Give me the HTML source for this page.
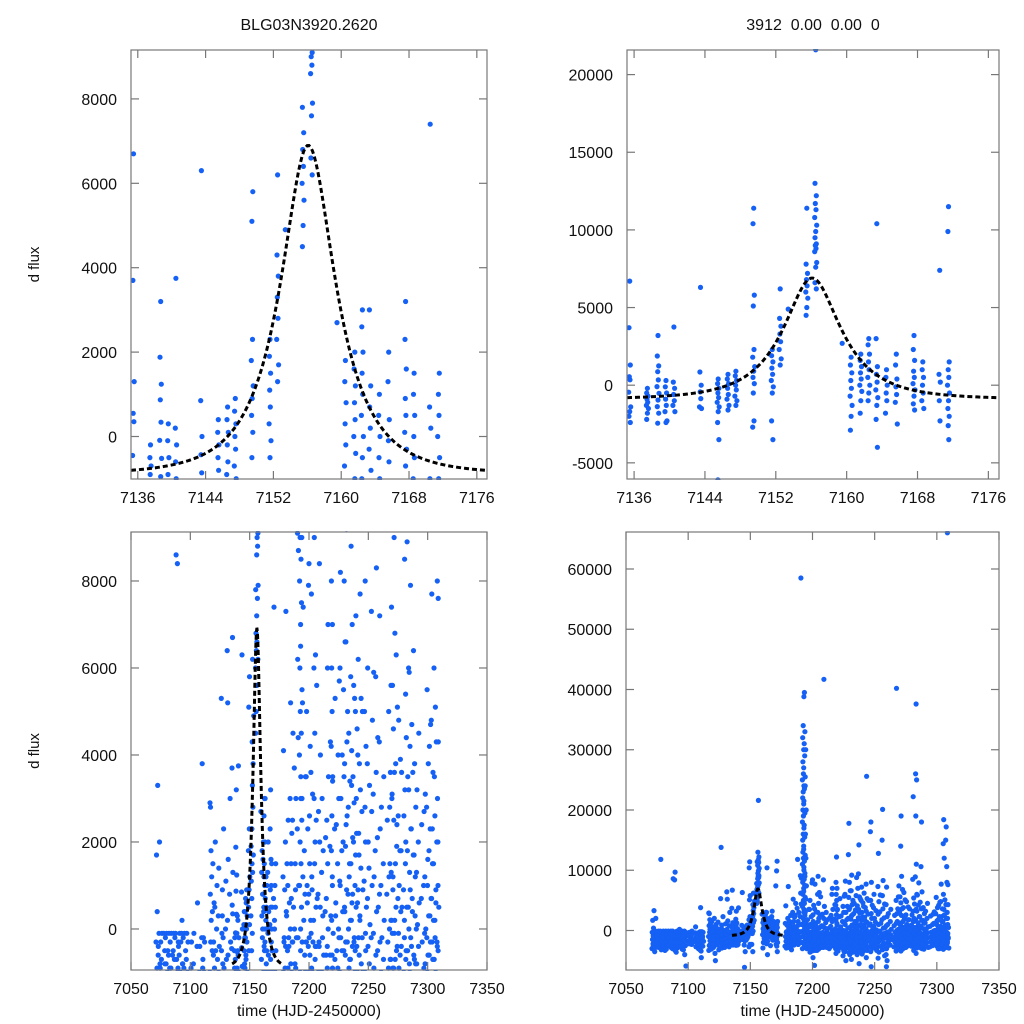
<!DOCTYPE html>
<html><head><meta charset="utf-8"><style>
html,body{margin:0;padding:0;background:#fff;width:1024px;height:1024px;overflow:hidden;}
svg{display:block;font-family:"Liberation Sans",sans-serif;}
</style></head><body>
<svg id="chart" width="1024" height="1024" viewBox="0 0 1024 1024" xmlns="http://www.w3.org/2000/svg"></svg>
<script>
// Observations within the event window (time HJD-2450000, flux values)
const windowTimes = [7135.5,7137.5,7138.7,7139.6,7140.5,7143.5,7145.5,7146.6,7147.5,7149.5,7151.6,7152.5,7153.4,7155.5,7156.5,7159.5,7160.5,7161.6,7162.5,7163.4,7164.5,7165.6,7167.6,7168.6,7170.5,7171.5];
const windowFlux = [
[6700,3700,1300,550,350,-450,-1400,-1700,-2000,-2400],
[-200,-500,-700,-900,-1100,-1300,-1500,-1800,-2200],
[3200,1880,1240,870,340,-90,-520,-950,-1380,-1800,-2450],
[300,-100,-500,-900,-1300,-1700,-2300,-2400],
[3750,200,-200,-600,-1000,-1300,-1700],
[6300,850,0,-430,-860,-1400,-1500],
[400,100,-200,-500,-800,-1100,-1400,-1700,-2400,-3500,-6100],
[700,400,100,-200,-600,-900,-1300,-1600],
[900,600,300,0,-300,-700,-1000,-1300],
[11400,10400,5800,5100,2300,1800,1200,900,500,100,-500,-2300,-2700],
[2300,1900,1500,1100,700,300,-100,-500,-2300,-3500],
[6200,4300,3800,3300,2800,2300,1700,1300],
[4900],
[11400,7800,7200,6800,6400,6000,5600,5000,4500],
[21600,13000,12200,11700,11300,10800,10300,9900,9500,9100,9000,8800,8600,7900,7600,6600,6200],
[2700],
[1800,1300,800,300,-200,-700,-1300,-2000,-2900],
[2000,1600,1200,800,400,0,-400,-1000,-1800],
[3000,2600,2000,1500,1000,500,0,-500,-1000],
[10400,3000,1200,700,200,-300,-800,-1300,-2200,-4000],
[1000,500,0,-500,-1000,-1800],
[2000,1300,400,-100,-600,-1100,-2500],
[3200,2300,1600,900,500,100,-300,-700,-1200,-1600],
[1500,1000,500,0,-500,-1000,-1500],
[7400,700,200,-1000,-2300],
[11500,9900,1500,1000,500,0,-500,-1000,-1500,-2000,-2600,-3500]
];
// Observations over the whole season outside the event window
const seasonTimes = [7071.5,7072.5,7074,7076,7078,7080,7082,7084,7086,7088,7089.5,7091,7093,7095,7097,7098,7103,7106,7110,7112,7117,7119,7121,7122.5,7126.5,7128,7131.5,7133.5,
7178.5,7180.5,7182.5,7184.5,7186.5,7188,7190.7,7192.5,7193.5,7194.5,7196,7198,7200,7202,7204.5,7206.5,7209.2,7211,7214,7216,7219.3,7222,7224.5,7226.5,7229.3,7231.5,7233.5,7235.5,7237.3,7239.5,7241.5,7243.5,7247,7249.5,7253,7256.4,7259.6,7263,7267.6,7269.5,7271.3,7273.5,7275.6,7278,7281,7283.3,7285.5,7287.7,7290,7292.5,7297,7299.5,7301.5,7303.5,7305.5,7307.5,7308.5];
const seasonFlux = [
[1700,-300,-900,-1500,-2200,-3000],
[3300,400,-600,-1200,-1900,-2600,-3500],
[2000,-100,-800,-1400,-2100],
[-100,-700,-1300,-2000,-2800],
[11800,-100,-500,-1200,-1900,-2500],
[-100,-800,-1500,-2300],
[-100,-600,-1100,-1800,-2600,-3300],
[-100,-900,-1600,-2400],
[-100,-500,-1200,-2000,-2800],
[8600,-100,-700,-1400,-2200,-3000],
[9700,8400,-300,-1000,-1800,-2600],
[-100,-600,-1300,-2100,-2900,-3600],
[200,-100,-800,-1500,-2300],
[-100,-900,-1600,-2400,-3100],
[-100,-700,-1400,-2200,-4000],
[-300,-1000,-1700,-2500,-5900],
[-100,-800,-1500,-2300],
[600,-400,-1100,-1900,-2700],
[3800,-200,-900,-1600,-2400,-3200,-4500],
[-300,-1000,-1800,-2600],
[2800,2900,1800,800,-300,-1000,-1700,-2500,-3300],
[1500,400,-600,-1400,-2200,-3000],
[2000,500,-500,-1200,-2000,-2800,-3800],
[1000,0,-700,-1500,-2300,-5000],
[13800,5300,300,-500,-1300,-2100,-2900],
[2300,-200,-900,-1700,-2500],
[5200,6400,1600,200,-600,-1400,-2200],
[3000,800,-300,-1100,-1900,-2700],
[4100,1200,-300,-1000,-1800,-2600],
[7300,2000,400,-400,-1200,-2000,-2800],
[2500,1000,-200,-900,-1700,-2500,-3200],
[5200,3000,1500,0,-800,-1600,-2400],
[4500,2500,500,-300,-1100,-1900],
[11800,3700,1500,0,-800,-1600,-2300],
[58500,9100,8700,6200,4400,2300,1000,-200,-1100,-2000],
[34000,32000,30000,28000,26000,25000,24000,23000,22000,21000,20000,19000,18000,17000,16000,15000,14000,13000,12000,11000,10000,9000,8000,7000,6000,5000,4000,3000,2000,1000,0,-1000,-2000,-3000],
[39500,38800,33000,31000,29000,27000,25500,23500,21500,19500,17500,15500,13500,12500,11500,10500,9500,8500,7500,6500,5500,4500,3500,2500,1500,500,-500,-1500,-2500],
[30000,24000,20000,16000,12000,9000,7400,5200,3000,1200,-300,-1200,-2200],
[1800,200,-600,-1400,-2200,-3000],
[5000,3500,1000,-300,-1100,-1900,-2800,-3600],
[8400,7900,2600,800,-200,-1000,-1800,-2600,-3400,-4500],
[7700,3600,1200,-100,-900,-1700,-2500,-3300,-5800],
[9000,6000,4500,3000,1500,200,-700,-1500,-2300,-3100],
[5600,2500,700,-400,-1200,-2000,-2800],
[41700,8400,4000,2000,500,-400,-1200,-2000,-2800],
[3000,1300,-200,-1000,-1800,-2600],
[2100,400,-600,-1400,-2200,-3000],
[7000,6000,3500,1500,0,-900,-1700,-2500],
[12200,8000,7000,6000,5000,4200,3400,2600,1800,1000,200,-600,-1400,-2200,-3000,-3800],
[5300,2300,300,-700,-1500,-2300],
[4000,1500,0,-900,-1700,-2500,-3300,-4200],
[8200,6000,3000,1000,-200,-1000,-1800,-2600,-3500,-5000],
[17800,12600,8000,5500,3500,2000,500,-500,-1300,-2100,-2900,-3700],
[9200,6600,4300,2400,900,-300,-1100,-1900,-2700,-3600,-4800],
[4500,2800,1200,0,-900,-1700,-2500,-3400],
[8800,5800,3300,1500,200,-700,-1500,-2300,-3100,-4000],
[14200,9400,5600,3500,2000,800,-300,-1100,-1900,-2700,-3500,-5500],
[7200,5000,3000,1700,500,-500,-1300,-2100,-2900,-3900],
[6200,4000,2200,900,-200,-1000,-1800,-2600,-3400],
[25600,7700,5300,3200,1400,200,-800,-1600,-2400,-3300,-4500],
[18000,16400,8000,5000,2800,1100,-100,-1000,-1800,-2600,-3500,-6000],
[6000,3800,2000,700,-400,-1200,-2000,-2900],
[12800,7300,4800,2700,1000,-200,-1100,-1900,-2700,-3600,-4600],
[20100,15000,8300,5800,3600,1800,400,-600,-1400,-2300,-3200],
[7200,4300,2300,800,-300,-1200,-2100,-3000,-4000,-5000,-6000],
[3500,1500,200,-700,-1500,-2400],
[40200,5000,2800,1200,0,-900,-1700,-2500,-3400],
[7400,5600,3000,1300,200,-700,-1500,-2300,-3100],
[19000,14000,9000,4600,2500,900,-100,-900,-1700,-2500,-3400],
[6300,3800,1900,500,-500,-1300,-2100,-2900],
[4800,2600,1000,-100,-900,-1700,-2600],
[3600,1800,500,-400,-1200,-2000],
[22200,8500,5400,3200,1500,200,-700,-1500,-2400,-3300],
[37600,26000,25000,19000,11000,8900,6000,3500,1800,500,-500,-1300,-2100,-2900,-3800],
[7900,4200,2300,900,-200,-1000,-1800,-2700],
[18000,10600,6400,3600,1700,400,-600,-1400,-2200,-3000],
[2800,1200,0,-800,-1600,-2400],
[4500,2000,600,-400,-1200,-2000,-2800],
[2700,1000,-100,-900,-1700,-2500],
[5500,2800,1000,-200,-1000,-1800,-2600],
[4200,1800,300,-600,-1400,-2200,-3000],
[7700,4800,2300,700,-300,-1100,-1900,-2700],
[18400,14400,12000,6000,3500,1500,200,-700,-1500,-2300,-3100],
[17200,15000,10600,4300,2000,600,-400,-1200,-2000,-2800],
[66000,8000,7600,3000,1000,-300,-1100,-1900,-2700]
];
// Additional season nights (mostly near baseline)
const extraTimes = [7073,7075,7079,7081,7083,7085,7087,7090,7092,7094,7096,7101,7108,7111,7118,7120,7124,7127,7130,
7179.5,7181.5,7183.5,7185.5,7189,7197,7199,7201,7203,7205.5,7208,7212,7215,7218,7220,7223,7225.5,7228,7230.4,7232.5,7234.5,7236.4,7238.4,7240.5,7242.5,7245,7248,7251,7254.5,7258,7261,7266,7268.6,7270.4,7272.4,7274.5,7277,7280,7282,7284.4,7286.6,7289,7291,7295,7298,7300.5,7302.5,7304.5,7306.5,7309];
const extraFlux = [
[-400,-1100,-1700,-2300,-2900],[-300,-900,-1500,-2100,-2700],[-200,-800,-1400,-2000,-2600,-3200],[-500,-1000,-1600,-2200,-2800],
[-300,-900,-1400,-2000,-2500,-3100],[-600,-1200,-1800,-2500],[-200,-700,-1300,-1900,-2600],[-400,-900,-1500,-2100,-2700,-3300],
[-300,-1000,-1600,-2300],[-200,-800,-1400,-2000,-2700],[-500,-1100,-1800,-2500,-3200],[-300,-900,-1600,-2200],
[-400,-1000,-1700,-2400,-3000],[-200,-700,-1300,-1900,-2600,-3400],[1200,200,-500,-1100,-1800,-2400,-3100],[600,-300,-900,-1600,-2300,-2900],
[1400,300,-400,-1000,-1700,-2400,-3200],[900,-100,-800,-1500,-2200,-2900],[1100,0,-700,-1400,-2100,-2800],
[900,-200,-900,-1500,-2200,-2900],[1500,300,-500,-1200,-1900,-2600],[600,-400,-1100,-1800,-2400,-3100],[2200,700,-300,-1000,-1700,-2400],
[3000,900,-200,-900,-1600,-2300],[3500,800,-300,-1000,-1700,-2400,-3100],[2300,600,-400,-1100,-1800,-2600],[4200,1500,200,-600,-1300,-2000,-2800],
[3100,900,-300,-1000,-1700,-2500,-3300],[6300,2000,500,-400,-1100,-1800,-2600],[2700,800,-300,-1000,-1800,-2600],[1800,300,-600,-1300,-2000,-2800],
[2500,700,-400,-1100,-1900,-2700],[4300,1900,300,-600,-1400,-2200,-3000],[3500,1200,-100,-900,-1700,-2500,-3400],[2400,600,-500,-1200,-2000,-2800],
[5700,3000,1100,-200,-1000,-1800,-2600,-3500],[4000,1800,400,-500,-1300,-2100,-2900],[6600,3800,1900,400,-600,-1400,-2200,-3000,-4000],[5000,2600,800,-300,-1100,-1900,-2700,-3600],
[3400,1500,200,-700,-1500,-2300,-3100],[7000,4100,2100,600,-400,-1200,-2000,-2800,-3700],[5300,2900,1000,-200,-1000,-1800,-2600,-3500],[4600,2200,600,-400,-1200,-2000,-2800],
[3800,1700,300,-600,-1400,-2200,-3000],[5000,2700,900,-200,-1000,-1800,-2700],[4200,2000,500,-500,-1300,-2100,-2900],[3300,1400,100,-800,-1600,-2400,-3300],
[5900,3100,1200,-100,-900,-1700,-2600],[4400,2100,500,-500,-1300,-2100,-3000,-4200],[2800,1000,-200,-1000,-1800,-2600],[2500,800,-300,-1100,-1900,-2700],
[3600,1500,200,-700,-1500,-2300],[5600,3100,1200,-100,-900,-1700,-2500],[6800,3600,1500,200,-700,-1500,-2300,-3100],[5100,2400,700,-400,-1200,-2000,-2800],
[3900,1800,400,-600,-1400,-2200],[2600,900,-200,-1000,-1800,-2600],[4400,2000,500,-500,-1300,-2100,-2900],[5900,3200,1300,0,-800,-1600,-2400],
[4700,2300,700,-400,-1200,-2000,-2900],[3800,1700,300,-700,-1500,-2300,-3100],[3200,1300,100,-800,-1600,-2400],[2400,700,-300,-1100,-1900,-2700],
[3100,1200,0,-800,-1600,-2400],[3800,1600,300,-600,-1400,-2200,-3000],[4700,2300,700,-300,-1100,-1900,-2700],[3600,1500,200,-700,-1500,-2300,-3100],
[5100,2600,900,-200,-1000,-1800,-2600],[4300,2000,500,-500,-1300,-2100,-2900],[1500,300,-600,-1400,-2200]
];
// Model fit parameters: [t0, tE, u0, baseline, peak excess]
const modelParams = [7156.1, 6.8, 0.5, -900, 7800];
const modelRange = [7135.2, 7177.2];
// Tick labels
const ticksTopX = [7136,7144,7152,7160,7168,7176];
const ticksTLY = [0,2000,4000,6000,8000];
const ticksTRY = [-5000,0,5000,10000,15000,20000];
const ticksBotX = [7050,7100,7150,7200,7250,7300,7350];
const ticksBLY = [0,2000,4000,6000,8000];
const ticksBRY = [0,10000,20000,30000,40000,50000,60000];

const NS = 'http://www.w3.org/2000/svg';
const svg = document.getElementById('chart');
function mk(tag, attrs, parent){const e=document.createElementNS(NS,tag);for(const k in attrs)e.setAttribute(k,attrs[k]);(parent||svg).appendChild(e);return e;}

function magn(t){
  const [t0,tE,u0,base,amp]=modelParams;
  const u=Math.sqrt(u0*u0+((t-t0)/tE)**2);
  const A=(u*u+2)/(u*Math.sqrt(u*u+4));
  const A0=(u0*u0+2)/(u0*Math.sqrt(u0*u0+4));
  return base+amp*(A-1)/(A0-1);
}

const panels = [
 {key:'tl',x0:131,x1:487,y0:50,y1:479,xmin:7135.2,xmax:7177.2,ymin:-1007,ymax:9159,xt:ticksTopX,yt:ticksTLY,xlab:497,title:'BLG03N3920.2620',ylabel:true,xtitle:false,spread:0.15},
 {key:'tr',x0:627,x1:999,y0:50,y1:479,xmin:7135.2,xmax:7177.2,ymin:-6040,ymax:21584,xt:ticksTopX,yt:ticksTRY,xlab:497,title:'3912\u00a0\u00a00.00\u00a0\u00a00.00\u00a0\u00a00',ylabel:false,xtitle:false,spread:0.15},
 {key:'bl',x0:131,x1:487,y0:532,y1:970,xmin:7050,xmax:7350,ymin:-943,ymax:9126,xt:ticksBotX,yt:ticksBLY,xlab:988,title:null,ylabel:true,xtitle:true,spread:0.8},
 {key:'br',x0:626,x1:999,y0:532,y1:970,xmin:7050,xmax:7350,ymin:-6556,ymax:66140,xt:ticksBotX,yt:ticksBRY,xlab:988,title:null,ylabel:false,xtitle:true,spread:0.8}
];
// small within-night time offsets (visual spread of exposures within one night)
const nightOffsets = [0,-0.5,0.5,-0.25,0.25,-0.75,0.75];

const defs = mk('defs',{});
panels.forEach(p=>{
  const X=t=>p.x0+(t-p.xmin)/(p.xmax-p.xmin)*(p.x1-p.x0);
  const Y=v=>p.y1-(v-p.ymin)/(p.ymax-p.ymin)*(p.y1-p.y0);
  const cp=mk('clipPath',{id:'clip-'+p.key},defs);
  mk('rect',{x:p.x0,y:p.y0-1,width:p.x1-p.x0,height:p.y1-p.y0+2},cp);
  const g=mk('g',{});
  
  
  const pts=mk('g',{'clip-path':'url(#clip-'+p.key+')',fill:'#1560f5'},g);
  
  
  const draw=(times,flux)=>{
    times.forEach((t,i)=>{
      if(t<p.xmin-1||t>p.xmax+1) return;
      flux[i].forEach((v,j)=>{
        const tt=t+nightOffsets[j%nightOffsets.length]*p.spread;
        const cx=X(tt), cy=Y(v);
        if(cy<p.y0-4||cy>p.y1+4||cx<p.x0-4||cx>p.x1+4) return;
        const c=mk('circle',{cx:cx.toFixed(1),cy:cy.toFixed(1),r:2.6},pts);
        
        
      });
    });
  };
  draw(windowTimes,windowFlux);
  draw(seasonTimes,seasonFlux);
  draw(extraTimes,extraFlux);
  let d='';
  for(let i=0;i<=200;i++){
    const t=modelRange[0]+(modelRange[1]-modelRange[0])*i/200;
    d+=(i?'L':'M')+X(t).toFixed(2)+','+Math.min(p.y1,Math.max(p.y0,Y(magn(t)))).toFixed(2);
  }
  const curve=mk('path',{d:d,fill:'none',stroke:'#000','stroke-width':3,'stroke-dasharray':'5,3','clip-path':'url(#clip-'+p.key+')'},g);
  
  
  const fr=mk('rect',{x:p.x0,y:p.y0,width:p.x1-p.x0,height:p.y1-p.y0,fill:'none',stroke:'#777','stroke-width':1.2},g);
  
  
  p.xt.forEach(v=>{
    const x=X(v);
    mk('line',{x1:x,x2:x,y1:p.y1,y2:p.y1-8,stroke:'#777','stroke-width':1.2},g);
    mk('line',{x1:x,x2:x,y1:p.y0,y2:p.y0+8,stroke:'#777','stroke-width':1.2},g);
    const tx=mk('text',{x:x,y:p.xlab+6,'text-anchor':'middle','font-size':16,fill:'#111'},g);
    tx.textContent=v;
    
    
  });
  p.yt.forEach(v=>{
    const y=Y(v);
    mk('line',{x1:p.x0,x2:p.x0+8,y1:y,y2:y,stroke:'#777','stroke-width':1.2},g);
    mk('line',{x1:p.x1,x2:p.x1-8,y1:y,y2:y,stroke:'#777','stroke-width':1.2},g);
    const ty=mk('text',{x:p.x0-14,y:y+6,'text-anchor':'end','font-size':16,fill:'#111'},g);
    ty.textContent=v;
    
    
  });
  const cx=(p.x0+p.x1)/2, cy=(p.y0+p.y1)/2;
  if(p.title){
    const tt=mk('text',{x:cx,y:30,'text-anchor':'middle','font-size':16,fill:'#111'},g);
    tt.textContent=p.title;
    
    
  }
  if(p.ylabel){
    const yl=mk('text',{x:0,y:0,'text-anchor':'middle','font-size':15,fill:'#111',transform:'translate(39,'+cy+') rotate(-90)'},g);
    yl.textContent='d flux';
    
    
  }
  if(p.xtitle){
    const xl=mk('text',{x:cx,y:1016,'text-anchor':'middle','font-size':16,fill:'#111'},g);
    xl.textContent='time (HJD-2450000)';
    
    
  }
});
</script>
</body></html>
